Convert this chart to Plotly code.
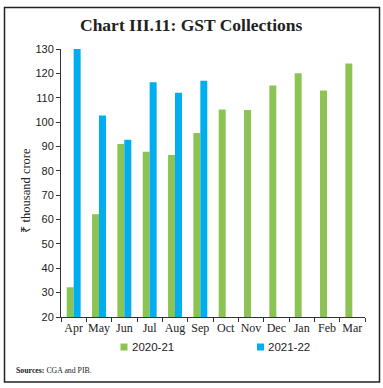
import plotly.graph_objects as go

months = ["Apr", "May", "Jun", "Jul", "Aug", "Sep", "Oct", "Nov", "Dec", "Jan", "Feb", "Mar"]
gst_2020_21 = [32.2, 62.2, 91.0, 87.8, 86.5, 95.5, 105.2, 105.0, 115.0, 120.0, 113.0, 124.0]
gst_2021_22 = [130.0, 102.7, 92.8, 116.4, 112.0, 117.0, None, None, None, None, None, None]
series_names = ["2020-21", "2021-22"]
colors = ["#8BC453", "#00AEEF"]
yticks = [20, 30, 40, 50, 60, 70, 80, 90, 100, 110, 120, 130]

W, H = 383, 388
L, R, T, B = 61, 18, 49, 71
pw, ph = W - L - R, H - T - B

def px(x):
    return (x - L) / pw

def py(y):
    return (H - B - y) / ph

fig = go.Figure()
for name, vals, col in zip(series_names, [gst_2020_21, gst_2021_22], colors):
    fig.add_trace(go.Bar(x=months, y=vals, name=name, marker=dict(color=col, line=dict(width=0)),
                         showlegend=False))

serif = "Liberation Serif"
sans = "Liberation Sans"

fig.update_layout(
    width=W, height=H,
    margin=dict(l=L, r=R, t=T, b=B, autoexpand=False),
    paper_bgcolor="white", plot_bgcolor="white",
    barmode="group", bargap=0.45, bargroupgap=0,
    showlegend=False,
    xaxis=dict(showline=True, linecolor="#333", linewidth=1, ticks="outside",
               tickson="boundaries", ticklen=4, tickcolor="#333", tickangle=0, automargin=False,
               tickfont=dict(family=serif, size=12, color="#222"), showgrid=False),
    yaxis=dict(range=[20, 130], tickvals=yticks, showline=True, linecolor="#333", linewidth=1,
               ticks="outside", ticklen=4, tickcolor="#333", showgrid=False, zeroline=False,
               automargin=False,
               tickfont=dict(family=sans, size=11, color="#222")),
    font=dict(family=serif, color="#222"),
)

# y-axis title
fig.add_annotation(text="₹ thousand crore", xref="paper", yref="paper", x=px(25.5), y=py(190),
                   xanchor="center", yanchor="middle", textangle=-90, showarrow=False,
                   font=dict(family=serif, size=12.5, color="#222"))

# legend (manual, to match the reference's tight symbol/text spacing)
legend_x = [120.5, 257]
for name, col, lx in zip(series_names, colors, legend_x):
    fig.add_shape(type="rect", xref="paper", yref="paper", x0=px(lx), x1=px(lx + 7),
                  y0=py(350.5), y1=py(343.5), line=dict(width=0), fillcolor=col)
    fig.add_annotation(text=name, xref="paper", yref="paper", x=px(lx + 9), y=py(347),
                       xanchor="left", yanchor="middle", showarrow=False,
                       font=dict(family=sans, size=11.5, color="#222"))

fig.add_annotation(text="<b>Chart III.11: GST Collections</b>", xref="paper", yref="paper",
                   x=px(191), y=py(25), xanchor="center", yanchor="middle", showarrow=False,
                   font=dict(family=serif, size=17.5, color="#222"))
fig.add_annotation(text="<b>Sources:</b> CGA and PIB.", xref="paper", yref="paper",
                   x=px(14), y=py(370), xanchor="left", yanchor="middle", showarrow=False,
                   font=dict(family=serif, size=7.8, color="#222"))
fig.add_shape(type="rect", xref="paper", yref="paper", x0=px(4.5), x1=px(379.5),
              y0=py(382), y1=py(7.5), line=dict(color="#222", width=1.5), fillcolor="rgba(0,0,0,0)",
              layer="above")

fig.write_html("out.html", config={"displayModeBar": False},
               post_script="document.body.style.margin='0';")
